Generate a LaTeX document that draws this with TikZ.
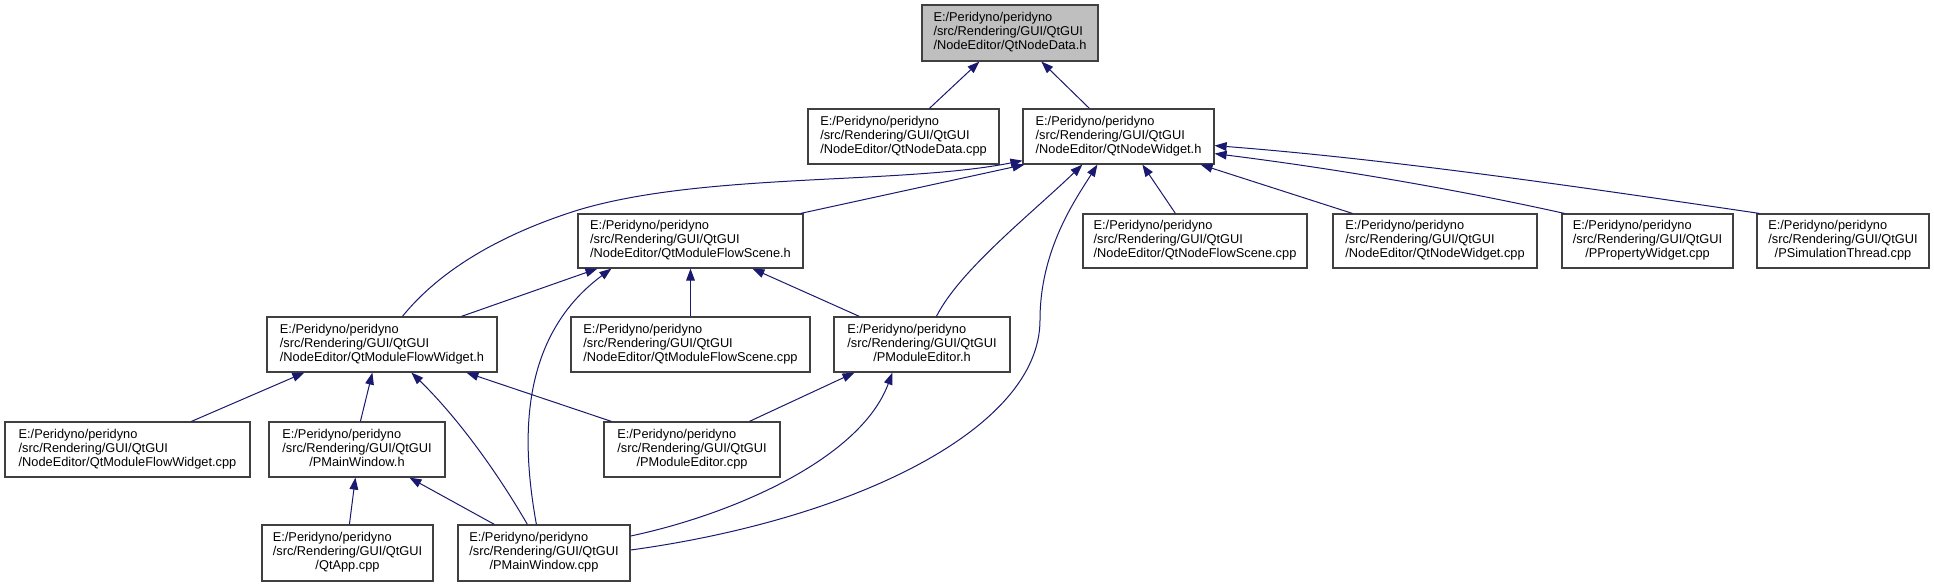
\documentclass[tikz,border=0pt]{standalone}
\usepackage{fontspec}
\setmainfont{Liberation Sans}
\usetikzlibrary{arrows.meta,calc}
\definecolor{edgeblue}{HTML}{191970}
\definecolor{boxgray}{HTML}{404040}
\definecolor{hlfill}{HTML}{BFBFBF}
\newcommand{\flbl}[1]{\begin{tabular}{@{}l@{}}E:/Peridyno/peridyno\\/src/Rendering/GUI/QtGUI\\\hfil #1\end{tabular}}
\begin{document}
\begin{tikzpicture}[x=0.75pt,y=-0.75pt,
  fbox/.style={draw=boxgray,line width=0.9pt,fill=white,rectangle,inner sep=0pt,
    minimum height=41.25pt,font=\fontsize{9.6}{10.5}\selectfont},
  inc/.style={draw=edgeblue,line width=0.75pt,-{Triangle[length=9pt,width=6.5pt]}}]
\fill[white] (0,0) rectangle (1934,587);
\useasboundingbox (0,0) rectangle (1934,587);
% row 1
\node[fbox,fill=hlfill,minimum width=132pt,minimum height=42pt] (A) at (1010,33) {\flbl{/NodeEditor/QtNodeData.h}};
% row 2
\node[fbox,minimum width=143.25pt] (B) at (903.5,136.5) {\flbl{/NodeEditor/QtNodeData.cpp}};
\node[fbox,minimum width=143.25pt] (C) at (1118.5,136.5) {\flbl{/NodeEditor/QtNodeWidget.h}};
% row 3
\node[fbox,minimum width=168.75pt,minimum height=40.5pt] (D) at (690.5,241) {\flbl{/NodeEditor/QtModuleFlowScene.h}};
\node[fbox,minimum width=168pt,minimum height=40.5pt] (E) at (1195,241) {\flbl{/NodeEditor/QtNodeFlowScene.cpp}};
\node[fbox,minimum width=153pt,minimum height=40.5pt] (F) at (1435,241) {\flbl{/NodeEditor/QtNodeWidget.cpp}};
\node[fbox,minimum width=128.25pt,minimum height=40.5pt] (G) at (1647.5,241) {\flbl{/PPropertyWidget.cpp}};
\node[fbox,minimum width=129pt,minimum height=40.5pt] (H) at (1843,241) {\flbl{/PSimulationThread.cpp}};
% row 4
\node[fbox,minimum width=172.5pt] (I) at (382,344.5) {\flbl{/NodeEditor/QtModuleFlowWidget.h}};
\node[fbox,minimum width=179.25pt] (J) at (690.5,344.5) {\flbl{/NodeEditor/QtModuleFlowScene.cpp}};
\node[fbox,minimum width=132pt] (K) at (922,344.5) {\flbl{/PModuleEditor.h}};
% row 5
\node[fbox,minimum width=183.75pt] (L) at (127.5,449.5) {\flbl{/NodeEditor/QtModuleFlowWidget.cpp}};
\node[fbox,minimum width=132pt] (M) at (357,449.5) {\flbl{/PMainWindow.h}};
\node[fbox,minimum width=132pt] (N) at (692,449.5) {\flbl{/PModuleEditor.cpp}};
% row 6
\node[fbox,minimum width=128.25pt,minimum height=42pt] (O) at (347.5,553) {\flbl{/QtApp.cpp}};
\node[fbox,minimum width=129pt,minimum height=42pt] (P) at (544,553) {\flbl{/PMainWindow.cpp}};
% edges
\draw[inc] ($(B.north west)+(122,0)$) -- ($(A.south west)+(58,0)$);
\draw[inc] ($(C.north west)+(67,0)$) -- ($(A.south west)+(120,0)$);
\draw[inc] ($(I.north west)+(136,0)$) .. controls (440,270) and (500,235) .. (575,211)
  .. controls (700,172) and (900,185) .. ($(C.south west)+(0,-4)$);
\draw[inc] ($(D.north east)+(-3,0)$) -- ($(C.south west)+(2,0)$);
\draw[inc] ($(K.north west)+(103,0)$) .. controls (960,270) and (1030,215) .. ($(C.south west)+(60,0)$);
\draw[inc] ($(P.east)+(0,-3)$) .. controls (850,520) and (1040,430) .. (1040,320)
  .. controls (1040,250) and (1075,200) .. ($(C.south west)+(75,0)$);
\draw[inc] ($(E.north west)+(93,0)$) -- ($(C.south west)+(120,0)$);
\draw[inc] ($(F.north west)+(20,0)$) -- ($(C.south east)+(-14,0)$);
\draw[inc] ($(G.north west)+(3,0)$) .. controls (1450,188) and (1330,168) .. ($(C.south east)+(0,-11)$);
\draw[inc] ($(H.north west)+(3,0)$) .. controls (1600,190) and (1400,160) .. ($(C.south east)+(0,-19)$);
\draw[inc] ($(I.north west)+(195,0)$) -- ($(D.south west)+(20,0)$);
\draw[inc] (J.north) -- (D.south);
\draw[inc] ($(K.north west)+(26,0)$) -- ($(D.south west)+(175,0)$);
\draw[inc] ($(P.north west)+(79,0)$) .. controls (523,450) and (515,340) .. ($(D.south west)+(34,0)$);
\draw[inc] ($(L.north west)+(187,0)$) -- ($(I.south west)+(38,0)$);
\draw[inc] ($(M.north west)+(92,0)$) -- ($(I.south west)+(106,0)$);
\draw[inc] ($(P.north west)+(70,0)$) .. controls (490,460) and (450,410) .. ($(I.south west)+(145,0)$);
\draw[inc] ($(N.north west)+(8,0)$) -- ($(I.south west)+(200,0)$);
\draw[inc] ($(N.north west)+(146,0)$) -- ($(K.south west)+(21,0)$);
\draw[inc] ($(P.east)+(0,-17)$) .. controls (730,515) and (860,460) .. ($(K.south west)+(59,0)$);
\draw[inc] ($(O.north west)+(88,0)$) -- ($(M.south west)+(87,0)$);
\draw[inc] ($(P.north west)+(37,0)$) -- ($(M.south west)+(141,0)$);
\end{tikzpicture}
\end{document}
